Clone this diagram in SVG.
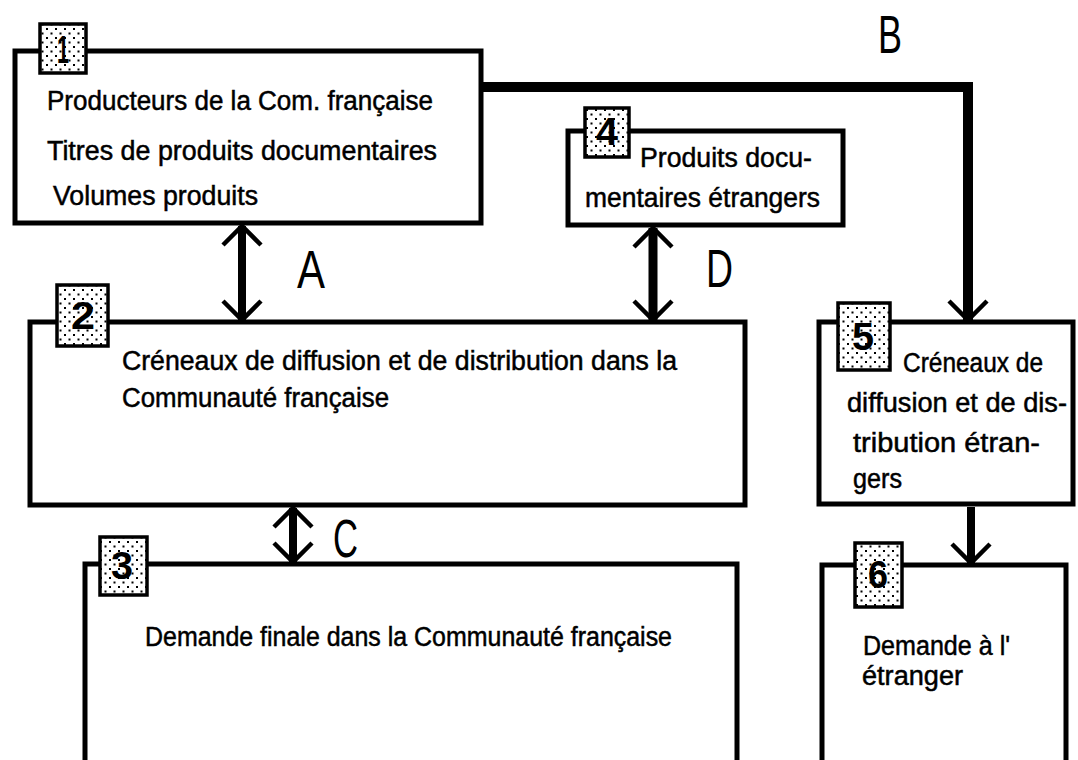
<svg xmlns="http://www.w3.org/2000/svg" width="1078" height="760" viewBox="0 0 1078 760">
<style>
.box{fill:#fff;stroke:#000;stroke-width:5;stroke-linejoin:miter}
.open{fill:#fff;stroke:#000;stroke-width:5;stroke-linejoin:miter}
.badge{fill:url(#dots);stroke:#000;stroke-width:3.5}
.num{font-family:"Liberation Sans",Arial,sans-serif;font-weight:bold;font-size:38px;fill:#000;text-anchor:middle}
.t{font-family:"Liberation Sans",Arial,sans-serif;font-size:27px;fill:#000;stroke:#000;stroke-width:0.5}
.lbl{font-family:"Liberation Sans",Arial,sans-serif;font-size:53px;fill:#000}
.conn{fill:none;stroke:#000;stroke-linejoin:miter}
</style>
<defs>
<pattern id="dots" width="9" height="9" patternUnits="userSpaceOnUse">
<rect width="9" height="9" fill="#fff"/>
<rect x="1" y="1" width="2" height="2" fill="#000"/>
<rect x="5.5" y="5.5" width="2" height="2" fill="#000"/>
</pattern>
<marker id="v" viewBox="-26 -24 30 48" refX="0" refY="0" markerWidth="30" markerHeight="48" markerUnits="userSpaceOnUse" orient="auto-start-reverse" overflow="visible">
<path d="M-19,-19 L0,0 L-19,19" fill="none" stroke="#000" stroke-width="4.5"/>
</marker>
</defs>
<rect width="1078" height="760" fill="#fff"/>

<g id="connectors">
<path id="B" class="conn" d="M481,87 H968 V320" stroke-width="10" marker-end="url(#v)"/>
<line id="A" class="conn" x1="242" y1="226" x2="242" y2="320" stroke-width="8" marker-start="url(#v)" marker-end="url(#v)"/>
<line id="D" class="conn" x1="653" y1="228" x2="653" y2="320" stroke-width="9" marker-start="url(#v)" marker-end="url(#v)"/>
<line id="C" class="conn" x1="293" y1="508" x2="293" y2="562" stroke-width="8" marker-start="url(#v)" marker-end="url(#v)"/>
<line id="E" class="conn" x1="971" y1="507" x2="971" y2="563" stroke-width="8" marker-end="url(#v)"/>
<text class="lbl" x="297" y="288" textLength="28" lengthAdjust="spacingAndGlyphs">A</text>
<text class="lbl" x="878" y="53" textLength="24" lengthAdjust="spacingAndGlyphs">B</text>
<text class="lbl" x="333" y="557" textLength="25" lengthAdjust="spacingAndGlyphs">C</text>
<text class="lbl" x="706" y="287" textLength="27" lengthAdjust="spacingAndGlyphs">D</text>
</g>

<g id="node1">
<rect class="box" x="15" y="51" width="466" height="172"/>
<rect class="badge" x="40" y="24" width="46" height="49"/>
<text class="num" x="63" y="63" textLength="12" lengthAdjust="spacingAndGlyphs">1</text>
<text class="t" x="47" y="110" textLength="386" lengthAdjust="spacingAndGlyphs">Producteurs de la Com. française</text>
<text class="t" x="47" y="160" textLength="390" lengthAdjust="spacingAndGlyphs">Titres de produits documentaires</text>
<text class="t" x="53" y="205" textLength="205" lengthAdjust="spacingAndGlyphs">Volumes produits</text>
</g>

<g id="node4">
<rect class="box" x="568" y="131" width="275" height="94"/>
<rect class="badge" x="585" y="108" width="44" height="49"/>
<text class="num" x="607" y="145" textLength="22" lengthAdjust="spacingAndGlyphs">4</text>
<text class="t" x="640" y="167" textLength="172" lengthAdjust="spacingAndGlyphs">Produits docu-</text>
<text class="t" x="585" y="207" textLength="235" lengthAdjust="spacingAndGlyphs">mentaires étrangers</text>
</g>

<g id="node2">
<rect class="box" x="30" y="322" width="715" height="183"/>
<rect class="badge" x="57" y="285" width="51" height="61"/>
<text class="num" x="83" y="329" textLength="24" lengthAdjust="spacingAndGlyphs">2</text>
<text class="t" x="122" y="370" textLength="555" lengthAdjust="spacingAndGlyphs">Créneaux de diffusion et de distribution dans la</text>
<text class="t" x="122" y="407" textLength="267" lengthAdjust="spacingAndGlyphs">Communauté française</text>
</g>

<g id="node3">
<path class="open" d="M85,766 V564 H737 V766"/>
<rect class="badge" x="100" y="537" width="47" height="58"/>
<text class="num" x="122" y="579" textLength="22" lengthAdjust="spacingAndGlyphs">3</text>
<text class="t" x="145" y="646" textLength="527" lengthAdjust="spacingAndGlyphs">Demande finale dans la Communauté française</text>
</g>

<g id="node5">
<rect class="box" x="819" y="322" width="254" height="182"/>
<rect class="badge" x="838" y="303" width="52" height="67"/>
<text class="num" x="863" y="350" textLength="22" lengthAdjust="spacingAndGlyphs">5</text>
<text class="t" x="903" y="372" textLength="140" lengthAdjust="spacingAndGlyphs">Créneaux de</text>
<text class="t" x="847" y="412" textLength="220" lengthAdjust="spacingAndGlyphs">diffusion et de dis-</text>
<text class="t" x="853" y="452" textLength="187" lengthAdjust="spacingAndGlyphs">tribution étran-</text>
<text class="t" x="853" y="488" textLength="49" lengthAdjust="spacingAndGlyphs">gers</text>
</g>

<g id="node6">
<path class="open" d="M822,766 V565 H1066 V766"/>
<rect class="badge" x="855" y="543" width="47" height="64"/>
<text class="num" x="878" y="588" textLength="20" lengthAdjust="spacingAndGlyphs">6</text>
<text class="t" x="863" y="655" textLength="147" lengthAdjust="spacingAndGlyphs">Demande à l'</text>
<text class="t" x="862" y="685" textLength="101" lengthAdjust="spacingAndGlyphs">étranger</text>
</g>
</svg>
